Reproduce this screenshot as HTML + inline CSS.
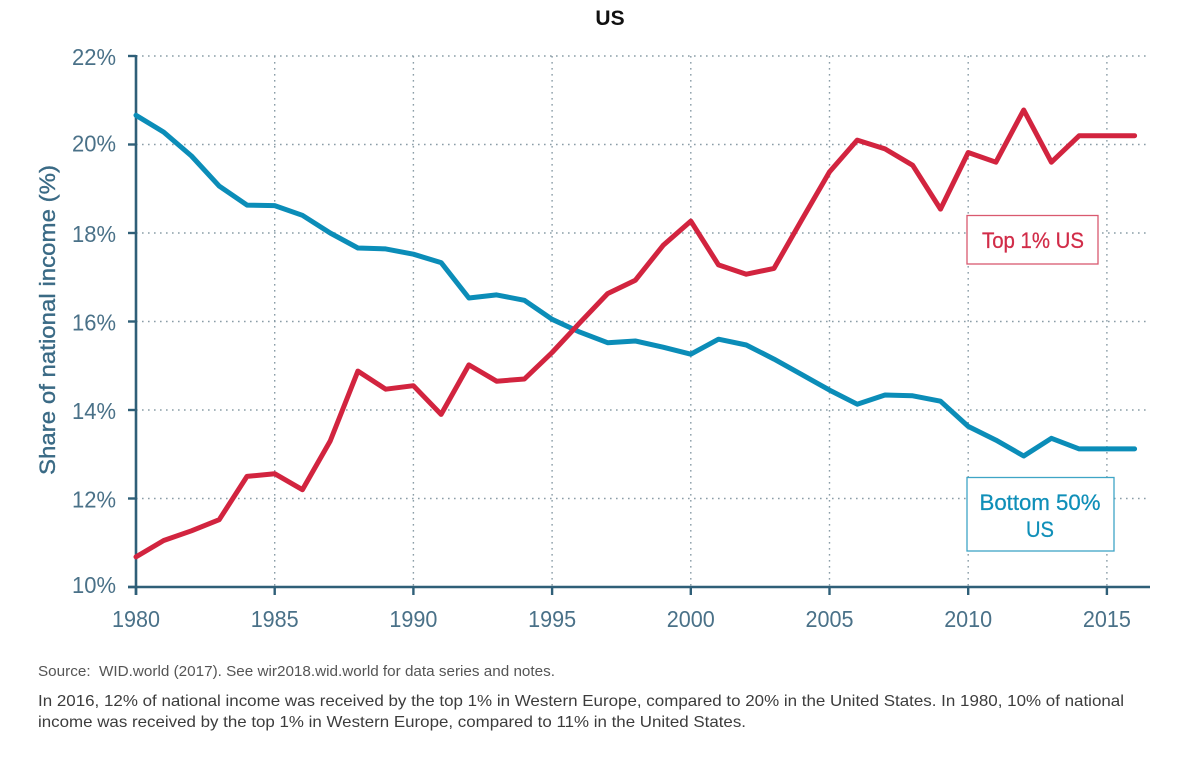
<!DOCTYPE html>
<html lang="en">
<head>
<meta charset="utf-8">
<title>US income shares</title>
<style>
html,body{margin:0;padding:0;background:#fff;}
svg{display:block;font-family:"Liberation Sans",sans-serif;}
.pre{white-space:pre;}
</style>
</head>
<body>
<svg id="chart" width="1200" height="759" viewBox="0 0 1200 759" xmlns="http://www.w3.org/2000/svg">
<rect width="1200" height="759" fill="#fff"></rect>
<text x="610" y="25" text-anchor="middle" font-size="21" font-weight="bold" fill="#111">US</text>
<g id="grid"></g>
<g id="axes"></g>
<g id="series"></g>
<text transform="translate(55,320) rotate(-90)" text-anchor="middle" font-size="22" textLength="310" lengthAdjust="spacingAndGlyphs" fill="#3a6a85" stroke="#3a6a85" stroke-width="0.35">Share of national income (%)</text>
<g>
<rect x="967" y="215.5" width="131" height="48.5" fill="#fff" stroke="#d9596f" stroke-width="1.3"></rect>
<text x="1033" y="248" text-anchor="middle" font-size="22" textLength="102" lengthAdjust="spacingAndGlyphs" fill="#d12c48" stroke="#d12c48" stroke-width="0.25">Top 1% US</text>
</g>
<g>
<rect x="967" y="477.5" width="147" height="73.5" fill="#fff" stroke="#3fa5c6" stroke-width="1.3"></rect>
<text x="1040" y="510" text-anchor="middle" font-size="22" textLength="121" lengthAdjust="spacingAndGlyphs" fill="#0f8fb8" stroke="#0f8fb8" stroke-width="0.25">Bottom 50%</text>
<text x="1040" y="537" text-anchor="middle" font-size="22" textLength="28" lengthAdjust="spacingAndGlyphs" fill="#0f8fb8" stroke="#0f8fb8" stroke-width="0.25">US</text>
</g>
<text class="pre" x="38" y="676" font-size="14.5" textLength="517" lengthAdjust="spacingAndGlyphs" fill="#555">Source:  WID.world (2017). See wir2018.wid.world for data series and notes.</text>
<text x="38" y="706" font-size="16" textLength="1086" lengthAdjust="spacingAndGlyphs" fill="#3c3c3c">In 2016, 12% of national income was received by the top 1% in Western Europe, compared to 20% in the United States. In 1980, 10% of national</text>
<text x="38" y="727" font-size="16" textLength="708" lengthAdjust="spacingAndGlyphs" fill="#3c3c3c">income was received by the top 1% in Western Europe, compared to 11% in the United States.</text>
</svg>
<script>
const years = [1980,1981,1982,1983,1984,1985,1986,1987,1988,1989,1990,1991,1992,1993,1994,1995,1996,1997,1998,1999,2000,2001,2002,2003,2004,2005,2006,2007,2008,2009,2010,2011,2012,2013,2014,2015,2016];
const top1 = [10.68,11.05,11.27,11.52,12.5,12.56,12.2,13.3,14.88,14.47,14.55,13.9,15.02,14.65,14.7,15.3,15.97,16.63,16.93,17.72,18.27,17.28,17.07,17.2,18.3,19.38,20.1,19.9,19.53,18.54,19.82,19.6,20.78,19.6,20.2,20.2,20.2];
const bottom50 = [20.66,20.28,19.74,19.06,18.63,18.62,18.4,18.0,17.66,17.64,17.52,17.33,16.53,16.6,16.48,16.05,15.76,15.52,15.56,15.42,15.26,15.6,15.47,15.15,14.8,14.45,14.13,14.34,14.32,14.2,13.63,13.32,12.96,13.36,13.12,13.12,13.12];
const xTicks = [1980,1985,1990,1995,2000,2005,2010,2015];
const yTicks = [10,12,14,16,18,20,22];

const NS = 'http://www.w3.org/2000/svg';
function xScale(v){ return 136 + (v - 1980) * 27.74; }
function yScale(v){ return 587 - (v - 10) * 44.25; }
function make(tag, attrs, parent){
  const el = document.createElementNS(NS, tag);
  for (const k in attrs) el.setAttribute(k, attrs[k]);
  parent.appendChild(el);
  return el;
}
const grid = document.getElementById('grid');
const axes = document.getElementById('axes');
const series = document.getElementById('series');
const axisColor = '#2f5f78';
const xRight = 1150;

yTicks.forEach(function(t){
  const y = yScale(t);
  if (t !== 10) {
    const g = make('line', {x1:136, x2:1147, y1:y, y2:y, stroke:'#8a9da7', 'stroke-width':1.4, 'stroke-dasharray':'1.6 4.4'}, grid);
    
    
  }
  const tick = make('line', {x1:128, x2:136, y1:y, y2:y, stroke:axisColor, 'stroke-width':2.4}, axes);
  
  
  const labelDrop = t === 10 ? 6 : (t === 20 ? 7 : 9);
  const label = make('text', {x:116, y:y+labelDrop, 'text-anchor':'end', 'font-size':23, fill:'#4a7188', textLength:44, lengthAdjust:'spacingAndGlyphs'}, axes);
  label.textContent = t + '%';
  
  
});

xTicks.forEach(function(t){
  const x = xScale(t);
  if (t !== 1980) {
    const g = make('line', {x1:x, x2:x, y1:56, y2:587, stroke:'#8a9da7', 'stroke-width':1.4, 'stroke-dasharray':'1.6 4.4'}, grid);
    
    
  }
  const tick = make('line', {x1:x, x2:x, y1:587, y2:595, stroke:axisColor, 'stroke-width':2.4}, axes);
  
  
  const label = make('text', {x:x, y:627, 'text-anchor':'middle', 'font-size':23, fill:'#4a7188', textLength:48, lengthAdjust:'spacingAndGlyphs'}, axes);
  label.textContent = t;
  
  
});

const yAxis = make('line', {x1:136, x2:136, y1:55, y2:595, stroke:axisColor, 'stroke-width':2.6}, axes);


const xAxis = make('line', {x1:128, x2:xRight, y1:587, y2:587, stroke:axisColor, 'stroke-width':2.6}, axes);



function pathFor(values){
  return values.map(function(v, i){
    return (i ? 'L' : 'M') + xScale(years[i]).toFixed(1) + ' ' + yScale(v).toFixed(1);
  }).join(' ');
}
const bottomLine = make('path', {d:pathFor(bottom50), fill:'none', stroke:'#0b8db8', 'stroke-width':5, 'stroke-linejoin':'round', 'stroke-linecap':'round'}, series);


const topLine = make('path', {d:pathFor(top1), fill:'none', stroke:'#d2243f', 'stroke-width':5, 'stroke-linejoin':'round', 'stroke-linecap':'round'}, series);


</script>
</body>
</html>
